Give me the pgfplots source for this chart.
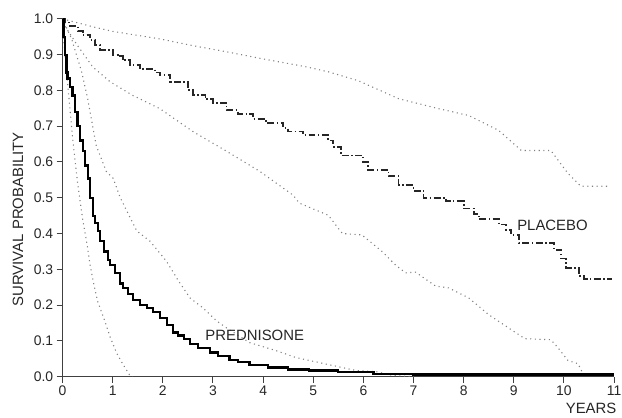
\documentclass[border=0pt]{standalone}
\usepackage{fontspec}
\setmainfont{Liberation Sans}
\usepackage{pgfplots}
\pgfplotsset{compat=1.18}
\begin{document}
\begin{tikzpicture}
\path[use as bounding box] (-63pt,-41pt) rectangle (563pt,379pt);
\begin{axis}[
  scale only axis, width=555pt, height=360pt,
  xmin=0, xmax=11, ymin=0, ymax=1,
  axis lines=left,
  axis line style={-, line width=1.6pt, draw=black!75},
  xtick={0,1,2,3,4,5,6,7,8,9,10,11},
  ytick={0,0.1,0.2,0.3,0.4,0.5,0.6,0.7,0.8,0.9,1.0},
  yticklabel style={/pgf/number format/.cd, fixed, fixed zerofill, precision=1},
  tick style={line width=1pt, draw=black!75},
  tick align=outside, major tick length=6pt,
  ticklabel style={font=\fontsize{14}{14}\selectfont, text=black!85},
  /pgf/number format/assume math mode=true,
  clip=false,
]
% Placebo (dash-dot step)
\addplot[const plot, black!85, line width=1.9pt, dash pattern=on 7pt off 2.5pt on 1.5pt off 2.5pt] coordinates {
(0,1.0) (0.05,0.99) (0.15,0.98) (0.3,0.965) (0.4,0.955) (0.55,0.94) (0.65,0.928) (0.75,0.914)
(1.0,0.9) (1.1,0.895) (1.2,0.884) (1.35,0.87) (1.55,0.859) (1.85,0.85) (1.95,0.844) (2.15,0.824)
(2.5,0.80) (2.6,0.788) (2.85,0.775) (3.0,0.766) (3.27,0.745) (3.5,0.735) (3.8,0.72) (4.05,0.71)
(4.4,0.695) (4.5,0.685) (4.8,0.675) (5.3,0.66) (5.4,0.643) (5.55,0.618) (6.0,0.60) (6.1,0.577)
(6.5,0.56) (6.7,0.535) (7.0,0.52) (7.2,0.50) (7.65,0.49) (8.0,0.47) (8.2,0.455) (8.3,0.44)
(8.7,0.425) (8.85,0.41) (8.95,0.395) (9.1,0.373) (9.8,0.354) (9.95,0.33) (10.05,0.304)
(10.3,0.28) (10.4,0.273) (10.95,0.273)
};
% Placebo upper CI
\addplot[gray, line width=1.1pt, dash pattern=on 1.1pt off 3.6pt] coordinates {
(0,1.0) (0.6,0.978) (1.0,0.965) (1.94,0.944) (2.6,0.925) (3.27,0.908) (4.0,0.888) (4.86,0.866)
(5.3,0.852) (5.9,0.827) (6.7,0.777) (7.5,0.749) (8.1,0.73) (8.7,0.688) (9.15,0.632) (9.74,0.632)
(10.08,0.568) (10.34,0.532) (10.93,0.532)
};
% Placebo lower CI
\addplot[gray, line width=1.1pt, dash pattern=on 1.1pt off 3.6pt] coordinates {
(0,0.99) (0.3,0.925) (0.6,0.866) (0.95,0.824) (1.4,0.786) (1.94,0.749) (2.6,0.685) (3.27,0.63)
(3.93,0.574) (4.6,0.507) (4.72,0.485) (5.3,0.451) (5.58,0.40) (5.97,0.396) (6.37,0.35)
(6.64,0.312) (6.84,0.29) (7.04,0.292) (7.44,0.253) (7.7,0.248) (8.1,0.22) (8.5,0.173)
(8.95,0.131) (9.22,0.106) (9.74,0.103) (9.88,0.081) (10.08,0.045) (10.28,0.036) (10.34,0.02) (10.4,0.0)
};
% Prednisone upper CI
\addplot[gray, line width=1.1pt, dash pattern=on 1.1pt off 3.6pt] coordinates {
(0,1.0) (0.18,0.944) (0.38,0.852) (0.5,0.777) (0.67,0.646) (0.87,0.574) (1.01,0.554) (1.15,0.5)
(1.48,0.407) (1.74,0.379) (2.07,0.323) (2.3,0.27) (2.54,0.22) (2.8,0.192) (3.07,0.156)
(3.27,0.136) (3.73,0.095) (4.27,0.072) (4.66,0.053) (5.32,0.033) (5.85,0.017) (6.25,0.014)
(6.6,0.003) (7,0)
};
% Prednisone lower CI
\addplot[gray, line width=1.1pt, dash pattern=on 1.1pt off 3.6pt] coordinates {
(0,1.0) (0.03,0.93) (0.1,0.82) (0.2,0.666) (0.3,0.54) (0.4,0.44) (0.49,0.368) (0.55,0.31)
(0.62,0.26) (0.7,0.21) (0.82,0.164) (0.95,0.11) (1.08,0.065) (1.2,0.035) (1.33,0.006) (1.4,0)
};
% Prednisone (solid step)
\addplot[const plot, black, line width=2.3pt] coordinates {
(0,1.0) (0.02,0.95) (0.05,0.9) (0.08,0.85) (0.1,0.833) (0.15,0.81) (0.2,0.786) (0.25,0.74)
(0.3,0.70) (0.35,0.66) (0.4,0.63) (0.45,0.59) (0.5,0.554) (0.55,0.50) (0.6,0.448) (0.65,0.43)
(0.7,0.407) (0.75,0.38) (0.82,0.35) (0.9,0.325) (0.95,0.312) (1.05,0.29) (1.15,0.26) (1.21,0.248)
(1.3,0.23) (1.41,0.215) (1.55,0.20) (1.68,0.192) (1.8,0.18) (1.94,0.164) (2.08,0.145) (2.2,0.123)
(2.3,0.115) (2.42,0.105) (2.54,0.092) (2.7,0.08) (2.94,0.067) (3.1,0.058) (3.33,0.047) (3.5,0.04)
(3.73,0.033) (4.1,0.025) (4.5,0.02) (4.92,0.017) (5.5,0.012) (6.2,0.008) (7,0.006) (11,0.006)
};
\node[font=\fontsize{15}{15}\selectfont, text=black!85, anchor=west] at (axis cs:2.78,0.115) {PREDNISONE};
\node[font=\fontsize{15}{15}\selectfont, text=black!85, anchor=west] at (axis cs:9.0,0.423) {PLACEBO};
\node[font=\fontsize{15}{15}\selectfont, text=black!85, anchor=east, yshift=-32pt, inner xsep=1pt] at (axis cs:11.07,0) {YEARS};
\node[font=\fontsize{15}{15}\selectfont, text=black!85, xshift=-45pt, rotate=90] at (axis cs:0,0.44) {SURVIVAL PROBABILITY};
\end{axis}
\end{tikzpicture}
\end{document}
